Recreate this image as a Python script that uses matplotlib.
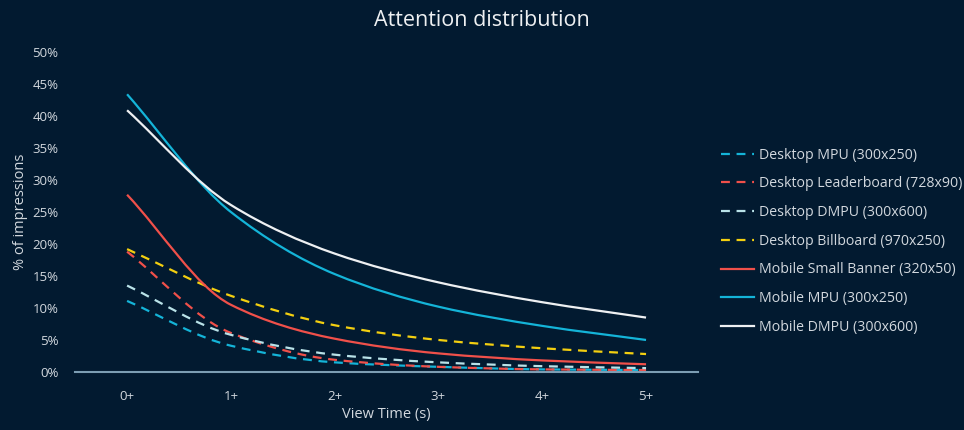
import numpy as np
import matplotlib
matplotlib.use("Agg")
import matplotlib.pyplot as plt
from matplotlib.path import Path
from matplotlib.patches import PathPatch
from matplotlib.lines import Line2D
from matplotlib.ticker import PercentFormatter

# view time buckets
labels = ["0+", "1+", "2+", "3+", "4+", "5+"]

# % of impressions
desktop_mpu = [11.1, 4.1, 1.5, 0.8, 0.4, 0.3]
desktop_leaderboard = [18.8, 6.1, 1.9, 0.8, 0.4, 0.3]
desktop_dmpu = [13.5, 5.8, 2.7, 1.5, 0.9, 0.6]
desktop_billboard = [19.2, 11.9, 7.3, 5.0, 3.7, 2.8]
mobile_small_banner = [27.7, 10.5, 5.2, 2.9, 1.8, 1.2]
mobile_mpu = [43.4, 25.0, 15.3, 10.2, 7.2, 5.0]
mobile_dmpu = [40.9, 26.1, 18.5, 14.0, 10.9, 8.5]

names = ["Desktop MPU (300x250)", "Desktop Leaderboard (728x90)",
         "Desktop DMPU (300x600)", "Desktop Billboard (970x250)",
         "Mobile Small Banner (320x50)", "Mobile MPU (300x250)",
         "Mobile DMPU (300x600)"]
series = [desktop_mpu, desktop_leaderboard, desktop_dmpu, desktop_billboard,
          mobile_small_banner, mobile_mpu, mobile_dmpu]
colors = ["#14b4d8", "#f0504a", "#b9e2e8", "#f3cf10",
          "#f0504a", "#14b4d8", "#eef0f2"]
dashed = [True, True, True, True, False, False, False]

bg = "#021a30"
txt = "#d2d8de"


def smooth_path(x, y):
    # monotone cubic bezier segments through the points
    x = np.asarray(x, float)
    y = np.asarray(y, float)
    h = np.diff(x)
    d = np.diff(y) / h
    m = np.zeros_like(y)
    m[0], m[-1] = d[0], d[-1]
    for i in range(1, len(y) - 1):
        if d[i - 1] * d[i] <= 0:
            m[i] = 0
        else:
            m[i] = 2 / (1 / d[i - 1] + 1 / d[i])
    verts = [(x[0], y[0])]
    codes = [Path.MOVETO]
    for i in range(len(x) - 1):
        verts += [(x[i] + h[i] / 3, y[i] + m[i] * h[i] / 3),
                  (x[i + 1] - h[i] / 3, y[i + 1] - m[i + 1] * h[i] / 3),
                  (x[i + 1], y[i + 1])]
        codes += [Path.CURVE4] * 3
    return Path(verts, codes)


plt.rcParams['font.family'] = ['Open Sans', 'DejaVu Sans']

fig = plt.figure(figsize=(9.64, 4.30), dpi=100, facecolor=bg)
ax = fig.add_axes([0.078, 0.135, 0.646, 0.744], facecolor=bg)

xs = np.arange(len(labels))
handles = []
for vals, name, col, dsh in zip(series, names, colors, dashed):
    ls = (0, (4, 3)) if dsh else "-"
    patch = PathPatch(smooth_path(xs, vals), facecolor="none", edgecolor=col,
                      lw=1.6, linestyle=ls, capstyle="butt")
    ax.add_patch(patch)
    handles.append(Line2D([], [], color=col, lw=1.6, linestyle=ls))

ax.set_xlim(-0.5, 5.5)
ax.set_ylim(0, 50)
ax.set_xticks(xs)
ax.set_xticklabels(labels)
ax.set_yticks(np.arange(0, 51, 5))
ax.yaxis.set_major_formatter(PercentFormatter(decimals=0))
ax.tick_params(length=0, colors=txt, labelsize=9.5)
ax.tick_params(axis="x", pad=13)
ax.tick_params(axis="y", pad=12)
for s in ["top", "right", "left"]:
    ax.spines[s].set_visible(False)
ax.spines["bottom"].set_color("#7c9db3")
ax.spines["bottom"].set_linewidth(1.5)

ax.set_xlabel("View Time (s)", color=txt, fontsize=10.5, labelpad=3)
ax.set_ylabel("% of impressions", color=txt, fontsize=10.5, labelpad=3)
fig.text(0.50, 0.952, "Attention distribution", color="#eef0f2",
         fontsize=15.5, ha="center", va="center")

leg = fig.legend(handles, names, loc="center left", bbox_to_anchor=(0.735, 0.439),
                 frameon=False, fontsize=10.2, labelcolor=txt, handlelength=2.3,
                 handletextpad=0.35, labelspacing=0.97)

fig.savefig("out.png", dpi=100, facecolor=bg)
